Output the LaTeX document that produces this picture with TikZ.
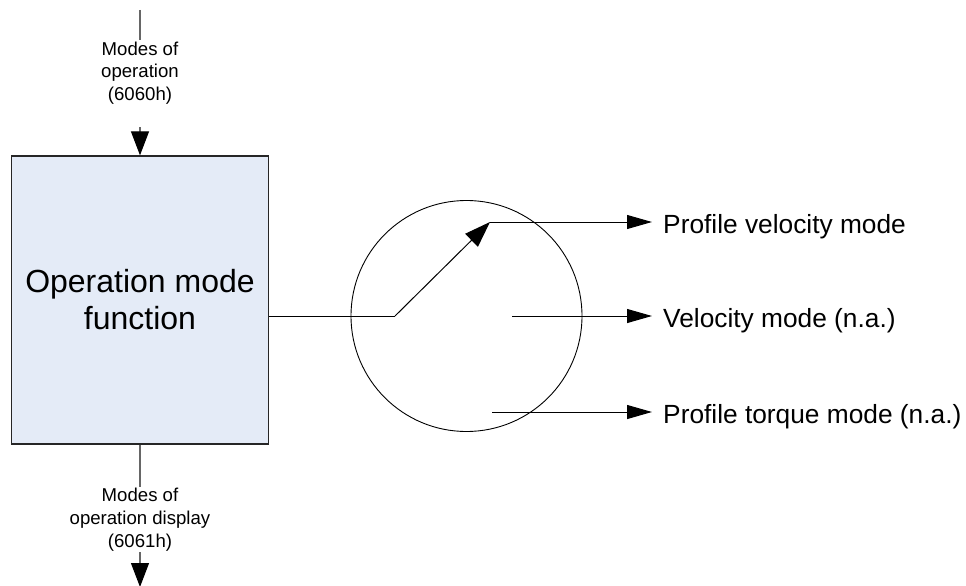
\documentclass[tikz,border=0pt]{standalone}
\usepackage{fontspec}
\setmainfont{Liberation Sans}
\usetikzlibrary{arrows.meta}
\definecolor{boxfill}{RGB}{228,235,247}
\begin{document}
\begin{tikzpicture}[x=1pt,y=-1pt,
  thin line/.style={line width=1pt, draw=black},
  gray line/.style={line width=1.2pt, draw=black!60},
  varrow/.style={line width=1.2pt, draw=black!60, -{Triangle[length=24pt,width=18pt,fill=black,color=black]}},
  harrow/.style={line width=1pt, -{Triangle[length=25pt,width=14pt]}},
  darrow/.style={line width=1pt, -{Triangle[length=26pt,width=18pt]}},
  small/.style={font=\fontsize{18.6}{22.8}\selectfont, align=center, inner sep=0pt},
  big/.style={font=\fontsize{26.3}{30}\selectfont, inner sep=0pt, anchor=base west},
]
\useasboundingbox (0,0) rectangle (966,586);
% function block
\node[draw=black!85, line width=1.3pt, fill=boxfill, minimum width=257pt, minimum height=288pt,
      inner sep=0pt, align=center, font=\fontsize{32}{37}\selectfont] (box) at (140,300) {Operation mode\\function};
% top input
\coordinate (t0) at (140,10);
\coordinate (t1) at (140,40);
\node[small] (lab1) at (140,73) {Modes of\\operation\\(6060h)};
\coordinate (t2) at (140,127);
\draw[gray line] (t0) -- (t1);
\draw[varrow] (t2) -- (box.north);
% bottom output
\coordinate (b1) at (140,487);
\node[small] (lab2) at (140,519.5) {Modes of\\operation display\\(6061h)};
\coordinate (b2) at (140,552);
\coordinate (b3) at (140,587);
\draw[gray line] (box.south) -- (b1);
\draw[varrow] (b2) -- (b3);
% switch circle
\node[circle, draw, line width=0.9pt, minimum size=231pt, inner sep=0pt] (sw) at (466.5,316) {};
\coordinate (p0) at (395,316);
\coordinate (p1) at (490,222);
\coordinate (m0) at (512,316);
\coordinate (q0) at (492,412);
\coordinate (o1) at (652,222);
\coordinate (o2) at (652,316);
\coordinate (o3) at (652,412);
\draw[thin line] (box.east |- p0) -- (p0);
\draw[darrow] (p0) -- (p1);
\draw[harrow] (p1) -- (o1);
\draw[harrow] (m0) -- (o2);
\draw[harrow] (q0) -- (o3);
% outputs
\node[big] (l1) at (663,233) {Profile velocity mode};
\node[big] (l2) at (663,327) {Velocity mode (n.a.)};
\node[big] (l3) at (663,423) {Profile torque mode (n.a.)};
\end{tikzpicture}
\end{document}
